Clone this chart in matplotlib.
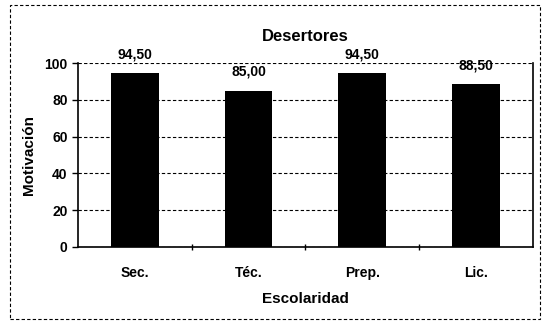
import matplotlib.pyplot as plt
from matplotlib.patches import Rectangle

# Motivación por nivel de escolaridad (desertores)
categories = ['Sec.', 'Téc.', 'Prep.', 'Lic.']
values = [94.50, 85.00, 94.50, 88.50]
y_ticks = [0, 20, 40, 60, 80, 100]

plt.rcParams['font.family'] = ['Liberation Sans', 'DejaVu Sans']
plt.rcParams['font.weight'] = 'bold'

fig = plt.figure(figsize=(5.42, 3.25), dpi=100)
ax = fig.add_axes([0.144, 0.24, 0.839, 0.566])

x = range(len(categories))
bars = ax.bar(x, values, width=0.42, color='black', zorder=3)

for b, v in zip(bars, values):
    ax.text(b.get_x() + b.get_width() / 2, v + 6.5, f'{v:.2f}'.replace('.', ','),
            ha='center', va='bottom', fontsize=10, fontweight='bold')

ax.set_xlim(-0.5, len(categories) - 0.5)
ax.set_ylim(0, 100)
ax.set_yticks(y_ticks)
ax.set_yticklabels([str(t) for t in y_ticks], fontsize=10, fontweight='bold')

# category ticks between bars, labels centred under each bar
ax.set_xticks([i + 0.5 for i in range(len(categories) - 1)])
ax.set_xticklabels([])
ax.set_xticks(list(x), minor=True)
ax.set_xticklabels(categories, minor=True, fontsize=10, fontweight='bold')
ax.tick_params(axis='x', which='minor', length=0, pad=14)
ax.tick_params(axis='x', which='major', length=4, direction='inout', width=1)
ax.tick_params(axis='y', length=4, direction='out', width=1)

ax.yaxis.grid(True, color='black', linestyle=(0, (3, 2)), linewidth=0.8, zorder=0)
ax.set_axisbelow(True)
for side in ['left', 'bottom', 'right']:
    ax.spines[side].set_color('black')
    ax.spines[side].set_linewidth(1.2)
ax.spines['top'].set_visible(False)

ax.set_title('Desertores', fontsize=12, fontweight='bold', pad=16)
ax.set_ylabel('Motivación', fontsize=11, fontweight='bold', labelpad=6)
ax.set_xlabel('Escolaridad', fontsize=11, fontweight='bold', labelpad=8)

# outer chart frame
fig.patches.append(Rectangle((0.018, 0.02), 0.978, 0.965, transform=fig.transFigure,
                             fill=False, edgecolor='black', linewidth=0.8,
                             linestyle=(0, (3, 2))))

fig.savefig('out.png', dpi=100)
